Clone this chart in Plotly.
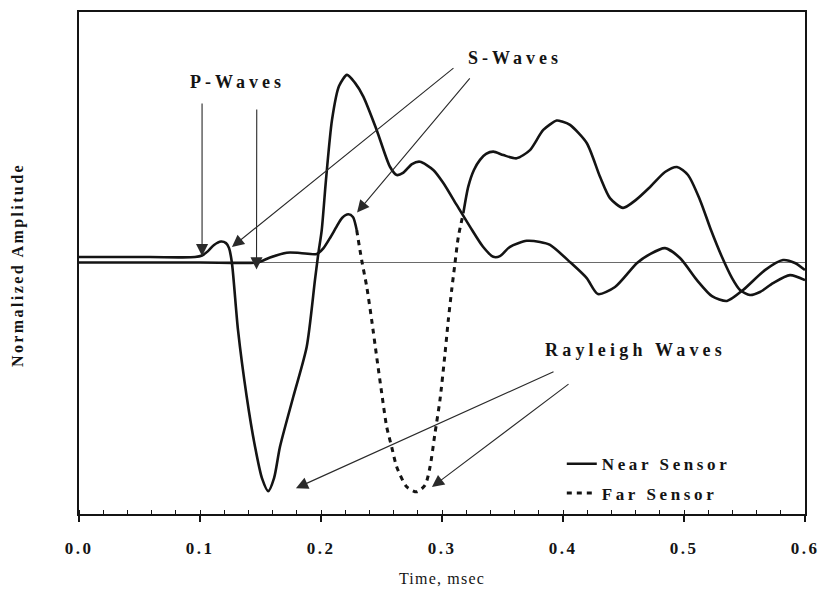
import plotly.graph_objects as go

# ---------------- data ----------------
near_t = [0.0, 0.0587, 0.0959, 0.1017, 0.1066, 0.1116, 0.1174, 0.1215, 0.1240, 0.1264,
          0.1314, 0.1386, 0.1455, 0.1512, 0.1564, 0.1612, 0.1661, 0.1771, 0.1882, 0.1950,
          0.1978, 0.2006, 0.2041, 0.2091, 0.2149, 0.2215, 0.2281, 0.2350, 0.2460, 0.2570,
          0.2626, 0.2678, 0.2752, 0.2818, 0.2928, 0.3011, 0.3121, 0.3231, 0.3339, 0.3424,
          0.3479, 0.3562, 0.3700, 0.3810, 0.3893, 0.4058, 0.4196, 0.4289, 0.4430, 0.4612,
          0.4719, 0.4843, 0.4967, 0.5107, 0.5231, 0.5355, 0.5488, 0.5669, 0.5818, 0.5917, 0.6]
near_amp = [0.024, 0.024, 0.024, 0.031, 0.050, 0.077, 0.092, 0.085, 0.063, -0.002,
            -0.295, -0.587, -0.806, -0.943, -1.0, -0.943, -0.806, -0.587, -0.368, -0.077,
            0.040, 0.142, 0.361, 0.624, 0.772, 0.821, 0.786, 0.726, 0.580, 0.419,
            0.383, 0.392, 0.431, 0.441, 0.405, 0.348, 0.252, 0.157, 0.069, 0.025,
            0.028, 0.069, 0.095, 0.090, 0.077, 0.002, -0.068, -0.138, -0.107, -0.002,
            0.037, 0.063, 0.020, -0.077, -0.147, -0.168, -0.120, -0.033, 0.011, -0.002, -0.033]

far_t = [0.0, 0.1, 0.1469, 0.1512, 0.1579, 0.1717, 0.1826, 0.1964, 0.2019, 0.2074,
         0.2129, 0.2174, 0.2226, 0.2264, 0.2295, 0.2336, 0.2378, 0.2419, 0.2460, 0.2502,
         0.2543, 0.2584, 0.2626, 0.2708, 0.2791, 0.2860, 0.2901, 0.2942, 0.2983, 0.3025,
         0.3052, 0.3080, 0.3107, 0.3135, 0.3176, 0.3217, 0.3264, 0.3314, 0.3364, 0.3424,
         0.3507, 0.3617, 0.3727, 0.3837, 0.3948, 0.3992, 0.4058, 0.4196, 0.4306, 0.4388,
         0.4496, 0.4603, 0.4719, 0.4843, 0.4942, 0.5033, 0.5132, 0.5223, 0.5314, 0.5397,
         0.5463, 0.5545, 0.5628, 0.5736, 0.5876, 0.6]
far_amp = [0.0, 0.0, 0.0, 0.007, 0.022, 0.043, 0.042, 0.037, 0.062, 0.107,
           0.157, 0.195, 0.211, 0.199, 0.142, 0.011, -0.106, -0.252, -0.412, -0.572,
           -0.719, -0.806, -0.894, -0.981, -1.003, -0.974, -0.894, -0.747, -0.602, -0.397,
           -0.252, -0.120, -0.004, 0.113, 0.215, 0.332, 0.405, 0.449, 0.475, 0.485,
           0.470, 0.456, 0.492, 0.580, 0.621, 0.617, 0.602, 0.523, 0.375, 0.282,
           0.239, 0.274, 0.330, 0.396, 0.418, 0.383, 0.274, 0.142, 0.024, -0.068,
           -0.120, -0.142, -0.129, -0.090, -0.055, -0.077]

tick_vals = [0.0, 0.1, 0.2, 0.3, 0.4, 0.5, 0.6]
tick_text = ["0.0", "0.1", "0.2", "0.3", "0.4", "0.5", "0.6"]

# ---------------- style ----------------
SERIF = "Liberation Serif"
INK = "#141414"
LW = 2.6
DASH_START, DASH_END = 0.2295, 0.3176   # part of the far trace that prints dashed


def spaced(s, px):
    return f'<span style="letter-spacing:{px}px">{s}</span>'


i0 = far_t.index(DASH_START)
i1 = far_t.index(DASH_END)

fig = go.Figure()
fig.add_trace(go.Scatter(x=near_t, y=near_amp, mode="lines", name=spaced("Near Sensor", 3.6),
                         legendgroup="near",
                         line=dict(color=INK, width=LW, shape="spline", smoothing=0.7)))
fig.add_trace(go.Scatter(x=far_t[:i0 + 1], y=far_amp[:i0 + 1], mode="lines",
                         legendgroup="far", showlegend=False,
                         line=dict(color=INK, width=LW, shape="spline", smoothing=0.7)))
fig.add_trace(go.Scatter(x=far_t[i0:i1 + 1], y=far_amp[i0:i1 + 1], mode="lines",
                         name=spaced("Far Sensor", 3.6), legendgroup="far",
                         line=dict(color=INK, width=3, dash="5px,5px", shape="spline", smoothing=0.7)))
fig.add_trace(go.Scatter(x=far_t[i1:], y=far_amp[i1:], mode="lines",
                         legendgroup="far", showlegend=False,
                         line=dict(color=INK, width=LW, shape="spline", smoothing=0.7)))

labfont = dict(family=SERIF, size=18, color=INK, weight="bold")
ann = [
    dict(x=0.1314, y=0.79, text=spaced("P-Waves", 4)),
    dict(x=0.3603, y=0.895, text=spaced("S-Waves", 4)),
    dict(x=0.4603, y=-0.383, text=spaced("Rayleigh Waves", 4.2)),
]
annotations = [dict(xref="x", yref="y", showarrow=False, font=labfont, **a) for a in ann]

arrows = [
    (0.1017, 0.028, 0.1017, 0.702),
    (0.1467, -0.03, 0.1469, 0.676),
    (0.1264, 0.068, 0.3107, 0.856),
    (0.2298, 0.219, 0.3240, 0.812),
    (0.1793, -0.987, 0.3934, -0.475),
    (0.2917, -0.982, 0.4058, -0.527),
]
for x, y, ax, ay in arrows:
    annotations.append(dict(x=x, y=y, ax=ax, ay=ay, xref="x", yref="y", axref="x", ayref="y",
                            text="", showarrow=True, arrowhead=2, arrowsize=2.2,
                            arrowwidth=1.1, arrowcolor="#2a2a2a", standoff=0))

annotations.append(dict(xref="paper", yref="paper", x=-0.084, y=0.496, textangle=-90,
                        xanchor="center", yanchor="middle",
                        showarrow=False, text=spaced("Normalized Amplitude", 2.4),
                        font=dict(family=SERIF, size=16, color=INK, weight="bold")))

fig.update_layout(
    width=821, height=597,
    margin=dict(l=79, r=16, t=12, b=83, autoexpand=False),
    paper_bgcolor="white", plot_bgcolor="white",
    showlegend=True,
    legend=dict(x=0.665, y=0.135, xanchor="left", yanchor="top",
                bgcolor="rgba(0,0,0,0)", tracegroupgap=4,
                font=dict(family=SERIF, size=17, color=INK, weight="bold")),
    annotations=annotations,
    xaxis=dict(range=[0, 0.6], tickvals=tick_vals, automargin=False,
               ticktext=[spaced(t, 2.5) for t in tick_text],
               tickfont=dict(family=SERIF, size=17, color=INK, weight="bold"),
               ticks="outside", ticklen=6, tickwidth=1.5, tickcolor=INK,
               ticklabelstandoff=12,
               minor=dict(dtick=0.02, ticks="inside", ticklen=4, tickwidth=1, tickcolor=INK),
               showline=True, linecolor=INK, linewidth=1.6, mirror=True,
               showgrid=False, zeroline=False,
               title=dict(text=spaced("Time, msec", 1.2), standoff=16,
                          font=dict(family=SERIF, size=16, color=INK))),
    yaxis=dict(range=[-1.1, 1.096], showticklabels=False, ticks="", automargin=False,
               showline=True, linecolor=INK, linewidth=1.6, mirror=True,
               showgrid=False, zeroline=True, zerolinecolor="#6a6a6a", zerolinewidth=1),
)

fig.write_html("out.html", config={"displayModeBar": False},
               post_script="document.body.style.margin='0';document.body.style.overflow='hidden';")
